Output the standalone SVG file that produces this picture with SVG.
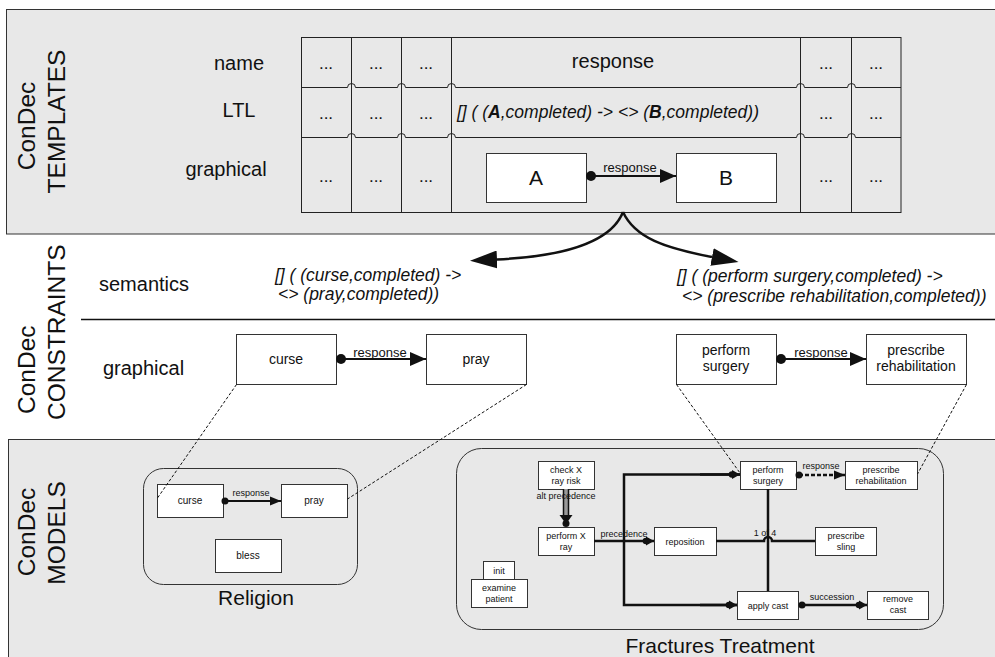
<svg xmlns="http://www.w3.org/2000/svg" width="995" height="657" viewBox="0 0 995 657">
<style>
  text { font-family: "Liberation Sans", Arial, sans-serif; fill: #111; }
  .panel { fill: #e8e8e8; stroke: #333; stroke-width: 1; }
  .grid { fill: none; stroke: #222; stroke-width: 1; }
  .box { fill: #fff; stroke: #333; stroke-width: 1; }
  .lab { font-size: 24.5px; }
  .row { font-size: 20px; text-anchor: middle; }
  .dots { font-size: 17px; text-anchor: middle; }
  .ltl { font-size: 17.5px; font-style: italic; }
  .big { font-size: 21px; text-anchor: middle; }
  .mid { font-size: 14px; text-anchor: middle; }
  .small { font-size: 10px; text-anchor: middle; }
  .tiny { font-size: 9px; text-anchor: middle; }
  .clab { font-size: 13px; text-anchor: middle; }
  .tlab { font-size: 9px; text-anchor: middle; }
  .conn { fill: none; stroke: #111; stroke-width: 2; }
  .thick { fill: none; stroke: #111; stroke-width: 2.5; }
  .curve { fill: none; stroke: #111; stroke-width: 2.5; }
  .link { fill: none; stroke: #111; stroke-width: 1; stroke-dasharray: 3 2; }
</style>
<defs>
  <marker id="bigArrow" markerUnits="userSpaceOnUse" markerWidth="28" markerHeight="18" viewBox="0 0 28 18" refX="0" refY="9" orient="auto">
    <path d="M0,0 L27,9 L0,18 z" fill="#111"/>
  </marker>
  <marker id="arrowMid" markerUnits="userSpaceOnUse" markerWidth="16" markerHeight="14" viewBox="0 0 16 14" refX="16" refY="7" orient="auto">
    <path d="M0,0 L16,7 L0,14 z" fill="#111"/>
  </marker>
  <marker id="dotMid" markerUnits="userSpaceOnUse" markerWidth="11" markerHeight="11" viewBox="0 0 11 11" refX="5.5" refY="5.5" orient="auto">
    <circle cx="5.5" cy="5.5" r="5" fill="#111"/>
  </marker>
  <marker id="arrowSm" markerUnits="userSpaceOnUse" markerWidth="11" markerHeight="10" viewBox="0 0 11 10" refX="11" refY="5" orient="auto">
    <path d="M0,0.5 L11,5 L0,9.5 z" fill="#111"/>
  </marker>
  <marker id="dotSm" markerUnits="userSpaceOnUse" markerWidth="8" markerHeight="8" viewBox="0 0 8 8" refX="4" refY="4" orient="auto">
    <circle cx="4" cy="4" r="3.5" fill="#111"/>
  </marker>
  <marker id="arrowDotSm" markerUnits="userSpaceOnUse" markerWidth="12" markerHeight="10" viewBox="0 0 12 10" refX="12" refY="5" orient="auto">
    <circle cx="4" cy="5" r="3.3" fill="#111"/>
    <path d="M4,0.5 L12,5 L4,9.5 z" fill="#111"/>
  </marker>
</defs>

<!-- TEMPLATES panel -->
<g id="templates">
  <rect class="panel" x="6.5" y="9.5" width="995" height="224.5"/>
  <text class="lab" transform="translate(35,126) rotate(-90)" text-anchor="middle">ConDec</text>
  <text class="lab" transform="translate(65,121.5) rotate(-90)" text-anchor="middle">TEMPLATES</text>
  <text class="row" x="239" y="70">name</text>
  <text class="row" x="239" y="117">LTL</text>
  <text class="row" x="226" y="176">graphical</text>
  <g id="table">
    <rect class="grid" x="301.5" y="37.5" width="599.5" height="175"/>
    <path class="grid" d="M351.5,37.5 V212.5 M401.5,37.5 V212.5 M451.5,37.5 V212.5 M800.5,37.5 V212.5 M851.5,37.5 V212.5"/>
    <path class="grid" d="M301.5,87.5 H347.5 a4,4 0 0 1 8,0 H397.5 a4,4 0 0 1 8,0 H447.5 a4,4 0 0 1 8,0 H796.5 a4,4 0 0 1 8,0 H847.5 a4,4 0 0 1 8,0 H901"/>
    <path class="grid" d="M301.5,137.5 H347.5 a4,4 0 0 1 8,0 H397.5 a4,4 0 0 1 8,0 H447.5 a4,4 0 0 1 8,0 H796.5 a4,4 0 0 1 8,0 H847.5 a4,4 0 0 1 8,0 H901"/>
    <text class="dots" x="326" y="69">...</text>
    <text class="dots" x="376" y="69">...</text>
    <text class="dots" x="426" y="69">...</text>
    <text class="dots" x="826" y="69">...</text>
    <text class="dots" x="876" y="69">...</text>
    <text class="dots" x="326" y="119">...</text>
    <text class="dots" x="376" y="119">...</text>
    <text class="dots" x="426" y="119">...</text>
    <text class="dots" x="826" y="119">...</text>
    <text class="dots" x="876" y="119">...</text>
    <text class="dots" x="326" y="182">...</text>
    <text class="dots" x="376" y="182">...</text>
    <text class="dots" x="426" y="182">...</text>
    <text class="dots" x="826" y="182">...</text>
    <text class="dots" x="876" y="182">...</text>
    <text class="row" x="613" y="68">response</text>
    <text class="ltl" x="457" y="118" font-size="18.7">[] ( (<tspan font-weight="bold">A</tspan>,completed) -&gt; &lt;&gt; (<tspan font-weight="bold">B</tspan>,completed))</text>
  </g>
  <g id="tA"><rect class="box" x="486.5" y="153.5" width="100" height="49"/><text class="big" x="536" y="185">A</text></g>
  <g id="tB"><rect class="box" x="676.5" y="153.5" width="100" height="49"/><text class="big" x="726" y="185">B</text></g>
</g>

<!-- MODELS panel -->
<g id="models">
  <rect class="panel" x="8.5" y="439.5" width="995" height="230"/>
  <text class="lab" transform="translate(35,532) rotate(-90)" text-anchor="middle">ConDec</text>
  <text class="lab" transform="translate(65,533) rotate(-90)" text-anchor="middle">MODELS</text>
</g>

<!-- CONSTRAINTS section -->
<g id="constraints">
  <text class="lab" transform="translate(35,414) rotate(-90)">ConDec</text>
  <text class="lab" transform="translate(65,420) rotate(-90)">CONSTRAINTS</text>
  <text class="row" x="144" y="291">semantics</text>
  <text class="row" x="143.5" y="375">graphical</text>
  <line x1="81" y1="319.5" x2="995" y2="319.5" stroke="#111" stroke-width="1.5"/>
  <text class="ltl" x="275" y="281">[] ( (curse,completed) -&gt;</text>
  <text class="ltl" x="278" y="300">&lt;&gt; (pray,completed))</text>
  <text class="ltl" x="677" y="282">[] ( (perform surgery,completed) -&gt;</text>
  <text class="ltl" x="682" y="302" font-size="18">&lt;&gt; (prescribe rehabilitation,completed))</text>
</g>
<g id="c-curse"><rect class="box" x="236.5" y="334.5" width="100" height="50"/><text class="mid" x="286" y="364">curse</text></g>
<g id="c-pray"><rect class="box" x="426.5" y="334.5" width="100" height="50"/><text class="mid" x="476" y="364">pray</text></g>
<g id="c-surgery"><rect class="box" x="676.5" y="334.5" width="100" height="50"/><text class="mid" x="726" y="355">perform</text><text class="mid" x="726" y="371">surgery</text></g>
<g id="c-rehab"><rect class="box" x="866.5" y="334.5" width="100" height="50"/><text class="mid" x="916" y="355">prescribe</text><text class="mid" x="916" y="371">rehabilitation</text></g>

<!-- Religion model -->
<g id="religion">
  <rect x="143.5" y="468.5" width="214" height="116" rx="20" fill="none" stroke="#333" stroke-width="1"/>
  <text x="256" y="605" font-size="21" text-anchor="middle">Religion</text>
</g>
<g id="r-curse"><rect class="box" x="157.5" y="484.5" width="66" height="33"/><text class="small" x="190" y="504">curse</text></g>
<g id="r-pray"><rect class="box" x="281.5" y="484.5" width="66" height="33"/><text class="small" x="314" y="504">pray</text></g>
<g id="r-bless"><rect class="box" x="215.5" y="539.5" width="66" height="33"/><text class="small" x="248" y="559">bless</text></g>

<!-- Fractures Treatment model -->
<g id="fractures">
  <rect x="456.5" y="448.5" width="487" height="181" rx="25" fill="none" stroke="#333" stroke-width="1"/>
  <text x="720" y="653" font-size="21" text-anchor="middle">Fractures Treatment</text>
</g>
<g id="f-check"><rect class="box" x="538.5" y="461.5" width="56" height="28"/><text class="tiny" x="566" y="473">check X</text><text class="tiny" x="566" y="484">ray risk</text></g>
<g id="f-xray"><rect class="box" x="538.5" y="527.5" width="56" height="28"/><text class="tiny" x="566" y="539">perform X</text><text class="tiny" x="566" y="550">ray</text></g>
<g id="f-reposition"><rect class="box" x="654.5" y="527.5" width="62" height="28"/><text class="tiny" x="685" y="544.5">reposition</text></g>
<g id="f-examine"><rect class="box" x="483.5" y="561.5" width="31" height="18"/><text class="tiny" x="499" y="574">init</text><rect class="box" x="471.5" y="579.5" width="56" height="28"/><text class="tiny" x="499" y="591">examine</text><text class="tiny" x="499" y="602">patient</text></g>
<g id="f-surgery"><rect class="box" x="740.5" y="461.5" width="56" height="28"/><text class="tiny" x="768" y="473">perform</text><text class="tiny" x="768" y="484">surgery</text></g>
<g id="f-rehab"><rect class="box" x="845.5" y="461.5" width="72" height="28"/><text class="tiny" x="881" y="473">prescribe</text><text class="tiny" x="881" y="484">rehabilitation</text></g>
<g id="f-sling"><rect class="box" x="815.5" y="527.5" width="61" height="28"/><text class="tiny" x="846" y="539">prescribe</text><text class="tiny" x="846" y="550">sling</text></g>
<g id="f-cast"><rect class="box" x="737.5" y="591.5" width="61" height="28"/><text class="tiny" x="768" y="608.5">apply cast</text></g>
<g id="f-remove"><rect class="box" x="867.5" y="591.5" width="61" height="28"/><text class="tiny" x="898" y="602">remove</text><text class="tiny" x="898" y="613">cast</text></g>

<!-- connectors -->
<g id="connectors">
  <!-- template response -->
  <line class="conn" x1="591" y1="176" x2="676" y2="176" marker-start="url(#dotMid)" marker-end="url(#arrowMid)"/>
  <text class="clab" x="630" y="172">response</text>
  <!-- instantiation arrows -->
  <path class="curve" d="M623,212 C612,240 570,256 497,259.5" marker-end="url(#bigArrow)"/>
  <path class="curve" d="M623,212 C635,238 665,248 712,257" marker-end="url(#bigArrow)"/>
  <!-- constraint responses -->
  <line class="conn" x1="341" y1="359" x2="426" y2="359" marker-start="url(#dotMid)" marker-end="url(#arrowMid)"/>
  <text class="clab" x="380" y="356.5">response</text>
  <line class="conn" x1="781" y1="359" x2="866" y2="359" marker-start="url(#dotMid)" marker-end="url(#arrowMid)"/>
  <text class="clab" x="821" y="356.5">response</text>
  <!-- dashed mapping lines -->
  <line class="link" x1="236.5" y1="384.5" x2="157.5" y2="498"/>
  <line class="link" x1="526.5" y1="384.5" x2="347.5" y2="499"/>
  <line class="link" x1="676.5" y1="384.5" x2="740" y2="473"/>
  <line class="link" x1="966.5" y1="384.5" x2="917.5" y2="474"/>
  <!-- Religion response -->
  <line class="conn" x1="225" y1="501" x2="281" y2="501" marker-start="url(#dotSm)" marker-end="url(#arrowSm)"/>
  <text class="tlab" x="251" y="496">response</text>
  <!-- alt precedence -->
  <line x1="566" y1="489" x2="566" y2="517" stroke="#999" stroke-width="4"/>
  <line x1="563.5" y1="489" x2="563.5" y2="517" stroke="#111" stroke-width="1.5"/>
  <line x1="568.5" y1="489" x2="568.5" y2="517" stroke="#111" stroke-width="1.5"/>
  <path d="M559.5,515 L572.5,515 L566,524 z" fill="#111"/>
  <circle cx="566" cy="523.5" r="3.5" fill="#111"/>
  <text class="tlab" x="566" y="499">alt precedence</text>
  <!-- precedence branching -->
  <line class="thick" x1="594" y1="541" x2="654" y2="541" marker-end="url(#arrowDotSm)"/>
  <path class="thick" d="M740,474.5 H624 V605 H737" />
  <path class="thick" d="M700,474.5 H740" marker-end="url(#arrowDotSm)"/>
  <path class="thick" d="M700,605 H737" marker-end="url(#arrowDotSm)"/>
  <text class="tlab" x="624" y="537">precedence</text>
  <!-- 1 of 4 -->
  <line class="thick" x1="768" y1="489" x2="768" y2="591"/>
  <path class="thick" d="M716,541 H764 a4,4 0 0 1 8,0 H815"/>
  <text class="tlab" x="765" y="536">1 of 4</text>
  <!-- response (dashed) -->
  <line x1="799" y1="475" x2="845" y2="475" stroke="#111" stroke-width="2.5" stroke-dasharray="4 2" marker-start="url(#dotSm)" marker-end="url(#arrowSm)"/>
  <text class="tlab" x="821" y="469">response</text>
  <!-- succession -->
  <line class="thick" x1="802" y1="605" x2="867" y2="605" marker-start="url(#dotSm)" marker-end="url(#arrowDotSm)"/>
  <text class="tlab" x="832" y="600">succession</text>
</g>
</svg>
